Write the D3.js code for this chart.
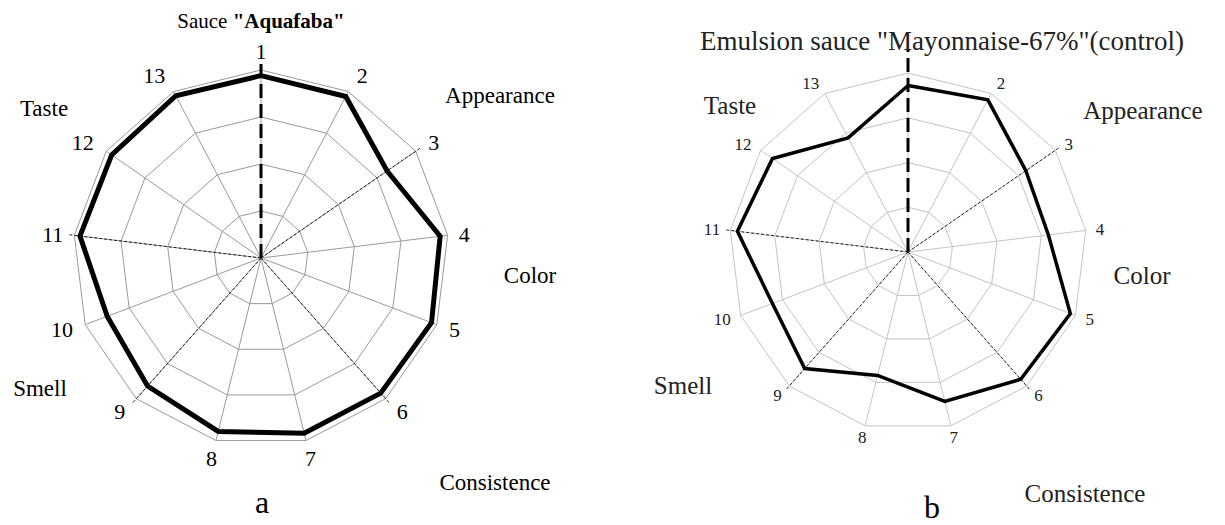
<!DOCTYPE html>
<html>
<head>
<meta charset="utf-8">
<script src="https://cdn.jsdelivr.net/npm/d3@7"></script>
<style>
  body { margin: 0; background: #fff; }
  svg text { font-family: "Liberation Serif", "Times New Roman", serif; }
</style>
</head>
<body>
<div id="chart"></div>
<script>
// profile indicators 1..13
var indicators = ["1", "2", "3", "4", "5", "6", "7", "8", "9", "10", "11", "12", "13"];
// scores (scale 1..5)
var aquafaba = [4.88, 4.88, 4.26, 4.84, 4.88, 4.84, 4.84, 4.80, 4.64, 4.50, 4.88, 4.86, 4.90];
var mayonnaise = [4.72, 4.84, 4.20, 4.16, 4.88, 4.80, 4.44, 3.84, 4.48, 4.24, 4.84, 4.68, 3.88];
var rings = [2, 3, 4, 5];
var groups = ["Appearance", "Color", "Consistence", "Smell", "Taste"];
// indicators where a group ends (dashed axes)
var borders = [2, 5, 8, 10];

var width = 1225, height = 525;

var svg = d3.select("#chart")
    .append("svg")
    .attr("width", width)
    .attr("height", height);

function radar(cfg) {
    var n = indicators.length;
    var angle = d3.scaleLinear().domain([0, n]).range([0, 2 * Math.PI]);
    var r = d3.scaleLinear().domain([1, 5]).range([0, cfg.R]);

    var g = svg.append("g")
        .attr("transform", "translate(" + cfg.cx + "," + cfg.cy + ")");

    var ringLine = d3.lineRadial()
        .angle(function (d, i) { return angle(i); })
        .radius(function (d) { return r(d); })
        .curve(d3.curveLinearClosed);

    // rings
    g.selectAll(".ring")
        .data(rings)
        .enter()
        .append("path")
        .attr("d", function (v) { return ringLine(indicators.map(function () { return v; })); })
        .attr("fill", "none")
        .attr("stroke", cfg.grid)
        .attr("stroke-width", 1);

    // spokes
    g.selectAll(".spoke")
        .data(indicators)
        .enter()
        .append("line")
        .attr("x2", function (d, i) { return r(5) * Math.sin(angle(i)); })
        .attr("y2", function (d, i) { return -r(5) * Math.cos(angle(i)); })
        .attr("stroke", cfg.grid)
        .attr("stroke-width", 1);

    // group borders
    g.selectAll(".border")
        .data(borders)
        .enter()
        .append("line")
        .attr("x2", function (i) { return (r(5) + 6) * Math.sin(angle(i)); })
        .attr("y2", function (i) { return -(r(5) + 6) * Math.cos(angle(i)); })
        .attr("stroke", "#222")
        .attr("stroke-width", 1)
        .attr("stroke-dasharray", "3,2");

    // profile
    g.append("path")
        .attr("d", ringLine(cfg.values))
        .attr("fill", "none")
        .attr("stroke", "#000")
        .attr("stroke-width", cfg.lineWidth)
        .attr("stroke-linejoin", "miter");

    // main axis
    g.append("line")
        .attr("y2", -(r(5) + cfg.axisExtra))
        .attr("stroke", "#000")
        .attr("stroke-width", 3)
        .attr("stroke-dasharray", "14,6");

    function labelR(d) {
        var a = angle(indicators.indexOf(d));
        return r(5) + cfg.numGap + cfg.numGapV * Math.abs(Math.cos(a));
    }

    // indicator numbers
    g.selectAll(".num")
        .data(indicators.filter(function (d, i) { return cfg.showFirst || i > 0; }))
        .enter()
        .append("text")
        .attr("x", function (d) { return labelR(d) * Math.sin(angle(indicators.indexOf(d))); })
        .attr("y", function (d) { return -labelR(d) * Math.cos(angle(indicators.indexOf(d))); })
        .attr("dy", "0.35em")
        .attr("text-anchor", function (d) {
            var s = Math.sin(angle(indicators.indexOf(d)));
            return s > 0.3 ? "start" : (s < -0.3 ? "end" : "middle");
        })
        .attr("font-size", cfg.numSize)
        .attr("fill", cfg.text)
        .text(function (d) { return d; });

    // group labels
    g.selectAll(".grp")
        .data(groups)
        .enter()
        .append("text")
        .attr("x", function (d, i) { return cfg.groupPos[i][0]; })
        .attr("y", function (d, i) { return cfg.groupPos[i][1]; })
        .attr("dy", "0.35em")
        .attr("text-anchor", "middle")
        .attr("font-size", cfg.labelSize)
        .attr("fill", cfg.text)
        .text(function (d) { return d; });

    return g;
}

radar({
    cx: 261, cy: 258, R: 188,
    values: aquafaba,
    grid: "#9a9a9a", text: "#000",
    lineWidth: 5, axisExtra: 10, numGap: 10, numGapV: 9, numSize: 22, labelSize: 23,
    showFirst: true,
    groupPos: [[239, -163], [269, 17], [234, 224], [-221, 130], [-217, -150]]
});

radar({
    cx: 908, cy: 252, R: 179,
    values: mayonnaise,
    grid: "#c4c4c4", text: "#222",
    lineWidth: 3.5, axisExtra: 24, numGap: 10, numGapV: 2, numSize: 17, labelSize: 25,
    showFirst: false,
    groupPos: [[235, -142], [234, 23], [177, 241], [-225, 133], [-178, -147]]
});

// titles
var t1 = svg.append("text")
    .attr("x", 261)
    .attr("y", 28)
    .attr("text-anchor", "middle")
    .attr("font-size", 21);
t1.append("tspan").text("Sauce ");
t1.append("tspan").attr("font-weight", "bold").text("\"Aquafaba\"");

svg.append("text")
    .attr("x", 942)
    .attr("y", 50)
    .attr("text-anchor", "middle")
    .attr("font-size", 27)
    .attr("fill", "#222")
    .text("Emulsion sauce \"Mayonnaise-67%\"(control)");

svg.append("text")
    .attr("x", 262).attr("y", 513)
    .attr("text-anchor", "middle")
    .attr("font-size", 32)
    .text("a");

svg.append("text")
    .attr("x", 932).attr("y", 518)
    .attr("text-anchor", "middle")
    .attr("font-size", 32)
    .text("b");
</script>
</body>
</html>
